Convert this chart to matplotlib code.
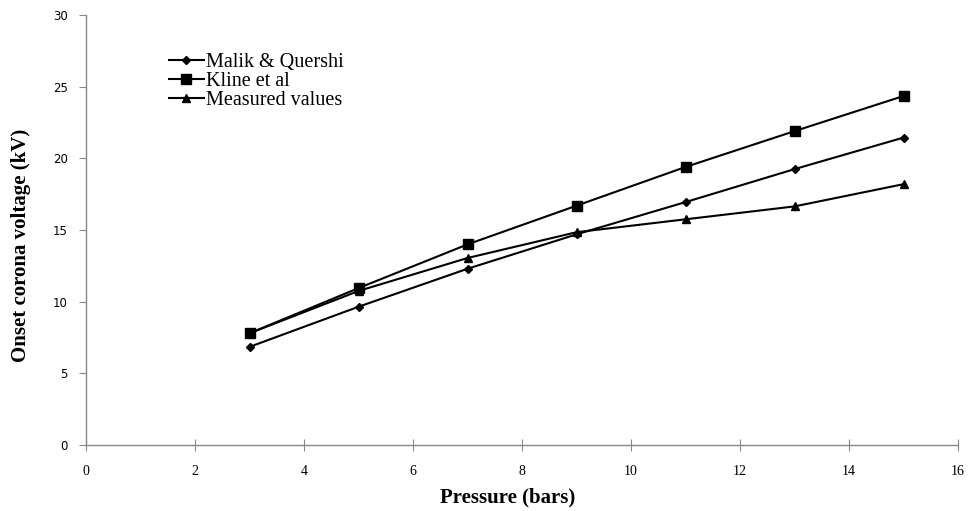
#!/usr/bin/env python3

import matplotlib
matplotlib.use('Agg')
import matplotlib.pyplot as plt

pressure = [3, 5, 7, 9, 11, 13, 15]
malik = [6.85, 9.65, 12.3, 14.7, 16.95, 19.25, 21.45]
kline = [7.8, 10.95, 14.0, 16.7, 19.4, 21.9, 24.35]
measured = [7.8, 10.75, 13.05, 14.85, 15.75, 16.65, 18.2]

x_ticks = list(range(0, 17, 2))
y_ticks = list(range(0, 31, 5))

fig = plt.figure(figsize=(9.73, 5.11), dpi=100)
ax = fig.add_axes([0.0884, 0.129, 0.8962, 0.8416])

ax.plot(pressure, malik, color='black', lw=1.5, marker='D', ms=4, label='Malik & Quershi')
ax.plot(pressure, kline, color='black', lw=1.5, marker='s', ms=7, label='Kline et al')
ax.plot(pressure, measured, color='black', lw=1.5, marker='^', ms=6, label='Measured values')

ax.set_xlim(0, 16)
ax.set_ylim(0, 30)
ax.set_xticks(x_ticks)
ax.set_yticks(y_ticks)

for side in ('top', 'right'):
    ax.spines[side].set_visible(False)
for side in ('left', 'bottom'):
    ax.spines[side].set_color('#888888')
    ax.spines[side].set_linewidth(1)

ax.tick_params(axis='y', direction='out', length=5, color='#888888', pad=8)
ax.tick_params(axis='x', direction='inout', length=8, color='#888888', pad=10)
for lbl in ax.get_xticklabels():
    lbl.set_family('Liberation Serif')
    lbl.set_fontsize(10)
for lbl in ax.get_yticklabels():
    lbl.set_family('DejaVu Sans')
    lbl.set_fontsize(8.5)

ax.set_xlabel('Pressure (bars)', family='Liberation Serif', fontsize=15, weight='bold')
ax.set_ylabel('Onset corona voltage (kV)', family='Liberation Serif', fontsize=15, weight='bold')
# label centres are a bit off the axis centre in the original
ax.xaxis.set_label_coords(0.484, -0.098)
ax.yaxis.set_label_coords(-0.063, 0.465)

ax.legend(loc='upper left', bbox_to_anchor=(0.084, 0.935), frameon=False,
          prop={'family': 'Liberation Serif', 'size': 14.5}, handlelength=1.7,
          handletextpad=0.1, labelspacing=0.0, borderpad=0)

fig.savefig('out.png', dpi=100)
